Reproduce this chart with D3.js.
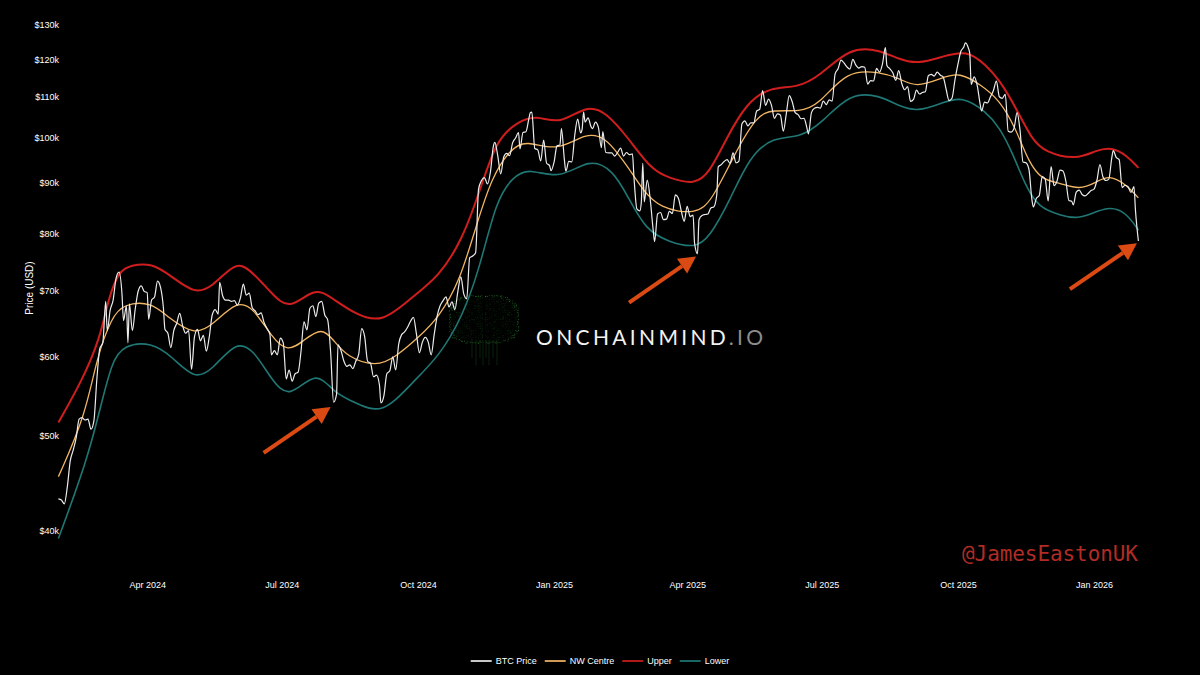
<!DOCTYPE html>
<html><head><meta charset="utf-8">
<script src="https://cdn.jsdelivr.net/npm/d3@7"></script>
<style>html,body{margin:0;background:#000;}svg{display:block}</style>
</head><body><svg id="c" width="1200" height="675"></svg>
<script>
// ---------- DATA (values in $k) ----------
const priceSeries = [
["2024-02-01",43.1],["2024-02-03",43.0],["2024-02-05",42.6],["2024-02-07",44.3],["2024-02-09",47.1],["2024-02-11",48.3],["2024-02-13",49.7],["2024-02-15",51.9],["2024-02-17",52.1],["2024-02-19",51.8],["2024-02-21",51.9],["2024-02-23",50.7],["2024-02-25",51.7],["2024-02-27",57.0],["2024-02-29",61.2],
["2024-03-02",62.0],["2024-03-04",68.3],["2024-03-05",63.8],["2024-03-07",66.9],["2024-03-09",68.5],["2024-03-11",72.1],["2024-03-13",73.1],["2024-03-15",69.4],["2024-03-16",65.3],["2024-03-18",67.6],["2024-03-19",62.0],["2024-03-20",67.9],["2024-03-22",63.8],["2024-03-24",67.2],["2024-03-26",70.0],["2024-03-28",70.8],["2024-03-30",69.9],
["2024-04-01",69.7],["2024-04-02",65.5],["2024-04-04",68.5],["2024-04-06",69.0],["2024-04-08",71.6],["2024-04-10",70.6],["2024-04-12",67.2],["2024-04-13",64.0],["2024-04-15",63.4],["2024-04-17",61.3],["2024-04-19",63.8],["2024-04-21",64.9],["2024-04-23",66.4],["2024-04-25",64.5],["2024-04-27",63.4],["2024-04-29",63.8],
["2024-05-01",58.3],["2024-05-03",62.9],["2024-05-05",64.0],["2024-05-07",62.3],["2024-05-09",63.1],["2024-05-11",60.8],["2024-05-13",62.9],["2024-05-15",66.2],["2024-05-17",67.0],["2024-05-19",66.3],["2024-05-20",71.4],["2024-05-22",69.2],["2024-05-24",68.5],["2024-05-26",68.5],["2024-05-28",68.3],["2024-05-30",68.4],
["2024-06-01",67.7],["2024-06-03",68.8],["2024-06-05",71.1],["2024-06-07",69.3],["2024-06-09",69.6],["2024-06-11",67.3],["2024-06-13",66.8],["2024-06-15",66.2],["2024-06-17",66.5],["2024-06-19",65.0],["2024-06-21",64.1],["2024-06-23",63.2],["2024-06-24",60.3],["2024-06-26",60.9],["2024-06-28",60.3],["2024-06-30",62.7],
["2024-07-02",62.0],["2024-07-04",57.0],["2024-07-06",58.2],["2024-07-08",56.7],["2024-07-10",57.7],["2024-07-12",57.9],["2024-07-14",60.8],["2024-07-16",65.1],["2024-07-18",63.9],["2024-07-20",67.2],["2024-07-22",67.6],["2024-07-24",65.9],["2024-07-26",68.0],["2024-07-28",68.3],["2024-07-30",66.2],
["2024-08-01",65.4],["2024-08-03",60.7],["2024-08-05",54.0],["2024-08-07",55.0],["2024-08-08",61.7],["2024-08-10",60.9],["2024-08-12",59.4],["2024-08-14",58.7],["2024-08-16",58.9],["2024-08-18",58.4],["2024-08-20",59.4],["2024-08-22",60.4],["2024-08-24",64.1],["2024-08-26",62.9],["2024-08-28",59.4],["2024-08-30",59.1],
["2024-09-01",57.3],["2024-09-03",57.5],["2024-09-05",56.2],["2024-09-06",53.9],["2024-09-08",54.8],["2024-09-10",57.7],["2024-09-12",58.1],["2024-09-14",60.0],["2024-09-16",58.2],["2024-09-18",61.8],["2024-09-20",63.2],["2024-09-22",63.6],["2024-09-24",64.3],["2024-09-26",65.2],["2024-09-28",65.8],["2024-09-30",63.3],
["2024-10-02",60.6],["2024-10-04",62.1],["2024-10-06",62.8],["2024-10-08",62.1],["2024-10-10",60.3],["2024-10-12",63.2],["2024-10-14",66.0],["2024-10-16",67.6],["2024-10-18",68.4],["2024-10-20",69.0],["2024-10-22",67.4],["2024-10-24",68.2],["2024-10-26",67.0],["2024-10-28",69.9],["2024-10-30",72.3],
["2024-11-01",69.5],["2024-11-03",68.7],["2024-11-05",75.6],["2024-11-07",75.9],["2024-11-09",76.5],["2024-11-11",88.7],["2024-11-13",90.5],["2024-11-15",91.1],["2024-11-17",89.8],["2024-11-19",92.3],["2024-11-21",98.0],["2024-11-22",98.9],["2024-11-24",95.8],["2024-11-26",91.9],["2024-11-28",95.6],["2024-11-30",96.4],
["2024-12-02",95.9],["2024-12-04",98.8],["2024-12-06",99.9],["2024-12-08",101.2],["2024-12-09",97.4],["2024-12-11",101.2],["2024-12-13",101.4],["2024-12-15",104.5],["2024-12-16",106.0],["2024-12-17",106.1],["2024-12-19",97.5],["2024-12-21",97.2],["2024-12-23",94.7],["2024-12-25",99.4],["2024-12-27",94.2],["2024-12-29",93.7],["2024-12-30",92.6],
["2025-01-01",94.4],["2025-01-03",98.1],["2025-01-05",98.3],["2025-01-06",102.1],["2025-01-08",95.0],["2025-01-09",92.5],["2025-01-11",94.6],["2025-01-13",94.5],["2025-01-15",100.5],["2025-01-17",104.4],["2025-01-19",101.1],["2025-01-20",102.0],["2025-01-21",106.1],["2025-01-22",103.7],["2025-01-24",104.7],["2025-01-26",102.6],["2025-01-27",102.1],["2025-01-29",103.7],["2025-01-31",102.4],
["2025-02-02",97.7],["2025-02-03",101.4],["2025-02-05",96.6],["2025-02-07",96.5],["2025-02-09",96.5],["2025-02-11",95.8],["2025-02-13",96.6],["2025-02-15",97.6],["2025-02-17",95.8],["2025-02-19",96.6],["2025-02-21",96.1],["2025-02-23",96.3],["2025-02-24",91.4],["2025-02-26",84.7],["2025-02-28",84.3],
["2025-03-01",86.0],["2025-03-02",94.2],["2025-03-03",86.1],["2025-03-05",90.6],["2025-03-07",86.7],["2025-03-09",80.7],["2025-03-10",78.5],["2025-03-12",83.7],["2025-03-14",84.0],["2025-03-16",82.6],["2025-03-18",82.7],["2025-03-20",84.2],["2025-03-22",83.8],["2025-03-24",87.5],["2025-03-26",86.9],["2025-03-28",84.3],["2025-03-30",82.3],
["2025-04-01",85.2],["2025-04-03",83.2],["2025-04-05",83.5],["2025-04-06",78.2],["2025-04-08",76.3],["2025-04-09",82.6],["2025-04-11",83.4],["2025-04-13",83.6],["2025-04-15",83.7],["2025-04-17",84.9],["2025-04-19",85.1],["2025-04-21",87.5],["2025-04-22",93.4],["2025-04-24",93.9],["2025-04-26",94.6],["2025-04-28",95.0],["2025-04-30",94.2],
["2025-05-02",96.5],["2025-05-04",94.3],["2025-05-06",94.7],["2025-05-08",103.2],["2025-05-10",104.0],["2025-05-12",102.8],["2025-05-14",103.5],["2025-05-16",103.5],["2025-05-18",106.4],["2025-05-20",106.8],["2025-05-22",111.6],["2025-05-24",107.8],["2025-05-26",109.4],["2025-05-28",107.8],["2025-05-30",104.6],
["2025-06-01",105.7],["2025-06-03",105.4],["2025-06-05",101.5],["2025-06-07",105.7],["2025-06-09",110.3],["2025-06-11",108.7],["2025-06-13",106.0],["2025-06-15",105.5],["2025-06-17",104.5],["2025-06-19",104.6],["2025-06-21",102.2],["2025-06-22",100.9],["2025-06-24",106.0],["2025-06-26",107.1],["2025-06-28",107.3],["2025-06-30",107.1],
["2025-07-02",108.9],["2025-07-04",108.0],["2025-07-06",109.2],["2025-07-08",108.9],["2025-07-10",116.0],["2025-07-12",117.4],["2025-07-14",119.8],["2025-07-16",119.0],["2025-07-18",117.9],["2025-07-20",117.3],["2025-07-22",120.0],["2025-07-24",118.4],["2025-07-26",117.6],["2025-07-28",118.0],["2025-07-30",117.8],
["2025-08-01",113.3],["2025-08-03",114.2],["2025-08-05",114.1],["2025-08-07",117.5],["2025-08-09",116.5],["2025-08-11",118.7],["2025-08-13",123.3],["2025-08-14",118.3],["2025-08-16",117.4],["2025-08-18",116.3],["2025-08-20",114.3],["2025-08-22",116.9],["2025-08-24",113.5],["2025-08-26",111.8],["2025-08-28",112.6],["2025-08-30",108.8],
["2025-09-01",109.3],["2025-09-03",111.7],["2025-09-05",110.7],["2025-09-07",111.1],["2025-09-09",111.3],["2025-09-11",115.5],["2025-09-13",115.9],["2025-09-15",115.4],["2025-09-17",116.5],["2025-09-19",115.7],["2025-09-21",115.2],["2025-09-23",112.0],["2025-09-25",109.0],["2025-09-27",109.6],["2025-09-29",114.4],
["2025-10-01",118.6],["2025-10-03",122.3],["2025-10-05",123.5],["2025-10-06",124.7],["2025-10-08",123.3],["2025-10-09",121.7],["2025-10-10",113.2],["2025-10-12",115.2],["2025-10-14",113.0],["2025-10-16",108.2],["2025-10-17",106.4],["2025-10-19",108.6],["2025-10-21",108.4],["2025-10-23",110.0],["2025-10-25",111.6],["2025-10-27",114.1],["2025-10-29",110.0],["2025-10-31",109.6],
["2025-11-02",110.6],["2025-11-04",101.5],["2025-11-06",101.3],["2025-11-08",102.3],["2025-11-10",106.0],["2025-11-12",101.7],["2025-11-14",94.5],["2025-11-16",94.3],["2025-11-18",92.9],["2025-11-20",86.6],["2025-11-21",85.1],["2025-11-23",86.8],["2025-11-25",87.4],["2025-11-27",91.3],["2025-11-29",90.8],
["2025-12-01",86.3],["2025-12-03",93.5],["2025-12-05",89.4],["2025-12-07",90.4],["2025-12-09",92.7],["2025-12-11",92.5],["2025-12-13",90.3],["2025-12-15",86.4],["2025-12-17",86.2],["2025-12-18",85.5],["2025-12-20",88.1],["2025-12-22",88.5],["2025-12-24",87.6],["2025-12-26",87.3],["2025-12-28",87.8],["2025-12-30",88.4],
["2026-01-01",88.7],["2026-01-03",90.6],["2026-01-05",93.9],["2026-01-07",91.3],["2026-01-09",90.5],["2026-01-11",90.8],["2026-01-13",95.4],["2026-01-14",97.0],["2026-01-16",95.5],["2026-01-18",95.0],["2026-01-20",89.0],["2026-01-22",89.5],["2026-01-24",89.2],["2026-01-26",88.0],["2026-01-28",89.2],["2026-01-29",84.5],["2026-01-31",78.6]
];

const centreSeries = [
["2024-02-01",45.4],["2024-02-19",52.2],["2024-02-27",60.0],["2024-03-08",65.8],["2024-03-16",67.9],["2024-04-04",68.2],["2024-04-15",65.8],["2024-05-03",63.1],["2024-05-15",64.6],["2024-06-01",68.5],["2024-06-12",67.2],["2024-06-24",62.9],["2024-07-05",60.6],["2024-07-16",62.4],["2024-07-28",64.3],["2024-08-05",62.4],["2024-08-14",60.0],["2024-09-03",58.6],["2024-09-16",60.0],["2024-10-02",62.9],["2024-10-15",65.8],["2024-10-29",71.3],["2024-11-10",82.0],["2024-11-20",91.2],["2024-12-02",97.2],["2024-12-13",99.5],["2025-01-03",96.7],["2025-01-23",101.3],["2025-02-05",99.9],["2025-02-14",96.0],["2025-02-20",93.4],["2025-03-02",88.5],["2025-03-13",84.9],["2025-04-07",83.5],["2025-04-18",86.5],["2025-05-02",95.6],["2025-05-18",105.4],["2025-05-29",106.7],["2025-06-16",106.2],["2025-06-29",107.9],["2025-07-18",117.1],["2025-08-09",116.5],["2025-08-22",114.9],["2025-09-03",112.3],["2025-09-20",114.9],["2025-10-02",116.5],["2025-10-17",113.0],["2025-10-29",109.2],["2025-11-09",102.3],["2025-11-18",94.3],["2025-11-27",90.6],["2025-12-09",90.0],["2025-12-22",88.5],["2026-01-03",90.2],["2026-01-11",91.7],["2026-01-23",89.6],["2026-01-31",86.9]
];

const upperSeries = [
["2024-02-01",51.5],["2024-02-17",56.8],["2024-02-29",62.5],["2024-03-06",69.0],["2024-03-13",73.3],["2024-03-21",74.3],["2024-04-04",74.7],["2024-04-18",72.3],["2024-05-03",69.5],["2024-05-15",70.6],["2024-05-30",74.7],["2024-06-08",74.0],["2024-06-24",69.6],["2024-07-06",66.8],["2024-07-23",70.6],["2024-08-03",69.0],["2024-08-20",66.2],["2024-09-07",64.9],["2024-09-27",69.0],["2024-10-15",72.3],["2024-10-31",78.8],["2024-11-12",88.5],["2024-11-23",99.5],["2024-12-07",103.7],["2024-12-20",105.4],["2025-01-05",103.0],["2025-01-23",107.9],["2025-02-05",106.2],["2025-02-20",100.0],["2025-03-08",92.7],["2025-03-20",91.0],["2025-04-06",89.6],["2025-04-16",92.1],["2025-04-27",99.5],["2025-05-11",108.4],["2025-05-27",112.5],["2025-06-14",112.3],["2025-06-29",115.2],["2025-07-20",123.5],["2025-08-09",122.7],["2025-08-22",120.0],["2025-09-04",118.7],["2025-09-20",120.7],["2025-10-07",122.7],["2025-10-20",118.4],["2025-10-29",114.4],["2025-11-09",107.4],["2025-11-20",99.5],["2025-11-29",96.7],["2025-12-20",94.9],["2026-01-03",97.2],["2026-01-13",97.8],["2026-01-23",96.0],["2026-01-31",93.2]
];

const lowerSeries = [
["2024-02-01",39.3],["2024-02-20",47.0],["2024-02-29",53.0],["2024-03-08",59.3],["2024-03-16",61.7],["2024-04-04",62.1],["2024-04-18",60.0],["2024-05-03",56.9],["2024-05-15",58.2],["2024-05-31",62.3],["2024-06-12",61.0],["2024-06-24",56.9],["2024-07-06",54.3],["2024-07-24",58.3],["2024-08-05",55.2],["2024-08-20",53.9],["2024-09-07",52.4],["2024-09-27",56.5],["2024-10-15",60.0],["2024-10-31",65.8],["2024-11-12",74.0],["2024-11-23",86.5],["2024-12-04",91.2],["2024-12-15",93.2],["2025-01-05",90.6],["2025-01-25",95.4],["2025-02-10",92.7],["2025-02-20",87.1],["2025-03-04",80.6],["2025-03-20",78.4],["2025-04-06",77.3],["2025-04-16",79.2],["2025-04-30",86.5],["2025-05-13",95.6],["2025-05-29",100.2],["2025-06-16",99.9],["2025-07-01",103.5],["2025-07-20",111.0],["2025-08-09",110.4],["2025-08-22",107.6],["2025-09-04",106.2],["2025-09-20",108.4],["2025-10-04",110.2],["2025-10-20",106.2],["2025-10-29",102.5],["2025-11-07",96.5],["2025-11-16",89.1],["2025-11-25",84.9],["2025-12-09",83.5],["2025-12-22",82.5],["2026-01-11",85.5],["2026-01-23",83.9],["2026-01-31",80.6]
];

const yTickValues = [40,50,60,70,80,90,100,110,120,130];
const xTickDates = ["2024-04-01","2024-07-01","2024-10-01","2025-01-01","2025-04-01","2025-07-01","2025-10-01","2026-01-01"];
const legendLabels = ["BTC Price","NW Centre","Upper","Lower"];
const arrowTargets = [["2024-08-03",53.4],["2025-04-07",75.8],["2026-01-30",78.2]];

// ---------- STYLE ----------
const colors = {"BTC Price":"#ececec","NW Centre":"#f2b563","Upper":"#d01e1e","Lower":"#1f7875"};
const widths = {"BTC Price":1.2,"NW Centre":1.3,"Upper":2,"Lower":1.6};
const font = "'Liberation Sans', Arial, Helvetica, sans-serif";

const parse = d3.utcParse("%Y-%m-%d");
const svg = d3.select("#c");
svg.append("rect").attr("width",1200).attr("height",675).attr("fill","#000");

const x = d3.scaleUtc().domain([parse("2024-02-01"), parse("2026-01-31")]).range([58.4, 1138.4]);
const y = d3.scaleLog().domain([40,130]).range([531,25]);

// ---------- watermark (brain + text) ----------
const wm = svg.append("g");
const hash = (a,b) => Math.abs(Math.sin(a*12.9898 + b*78.233) * 43758.5453) % 1;
const bcx = 484, bcy = 319, brx = 36, bry = 25, pw = 2.6;
const dots = [];
for (let i = -brx; i <= brx; i += 1.8) {
  for (let j = -bry; j <= bry; j += 1.8) {
    const r = Math.pow(Math.abs(i)/brx, pw) + Math.pow(Math.abs(j)/bry, pw*(j>0?1.3:1));
    if (r > 1 || Math.abs(i) < 1.0) continue;
    const h = hash(i, j), h2 = hash(j+3, i+1);
    const band = 0.5 + 0.5*Math.sin(i*0.5 + Math.sin(j*0.35)*3 + j*0.3);
    let op = 0.05 + 0.25*h*band;
    if (r > 0.8) op = 0.3 + 0.4*h;
    if (Math.abs(i) < 3) op = Math.max(op, 0.3*h);
    dots.push([bcx+i+(h2-0.5)*1.2, bcy+j+(h-0.5)*1.2, op]);
  }
}
wm.selectAll("circle.bd").data(dots).join("circle")
  .attr("cx",d=>d[0]).attr("cy",d=>d[1]).attr("r",0.6)
  .attr("fill","#34a03b").attr("opacity",d=>d[2]);
const stemX = [472,476,480,483,486,489,493,497];
wm.selectAll("line.st").data(stemX).join("line")
  .attr("x1",d=>d).attr("x2",d=>d).attr("y1",340).attr("y2",(d,i)=>358 + (i*7)%14)
  .attr("stroke","#1f6424").attr("stroke-width",0.7).attr("opacity",0.5);

const wt = wm.append("text").attr("x",536).attr("y",345)
  .attr("font-family","Lato, 'Open Sans', sans-serif").attr("font-size",21)
  .attr("textLength",227).attr("lengthAdjust","spacing");
wt.append("tspan").attr("fill","#f2f2f2").text("ONCHAINMIND");
wt.append("tspan").attr("fill","#8c8c8c").text(".IO");

// ---------- lines ----------
const lineGen = d3.line().x(d=>x(parse(d[0]))).y(d=>y(d[1]));
const series = [["Lower",lowerSeries,d3.curveBasis],["Upper",upperSeries,d3.curveBasis],["NW Centre",centreSeries,d3.curveBasis],["BTC Price",priceSeries,d3.curveMonotoneX]];
svg.append("g").selectAll("path").data(series).join("path")
  .attr("fill","none")
  .attr("stroke",d=>colors[d[0]])
  .attr("stroke-width",d=>widths[d[0]])
  .attr("stroke-linejoin","round")
  .attr("d",d=>lineGen.curve(d[2])(d[1]));

// ---------- axes ----------
const yAxis = d3.axisLeft(y).tickValues(yTickValues).tickSize(0).tickPadding(4)
  .tickFormat(v => "$" + v + "k");
const gy = svg.append("g").attr("transform","translate(63,0)").call(yAxis);
gy.select(".domain").remove();
gy.selectAll("text").attr("fill","#fff").attr("font-family",font).attr("font-size",9);

const xAxis = d3.axisBottom(x).tickValues(xTickDates.map(parse)).tickSize(0).tickPadding(7)
  .tickFormat(d3.utcFormat("%b %Y"));
const gx = svg.append("g").attr("transform","translate(0,575)").call(xAxis);
gx.select(".domain").remove();
gx.selectAll("text").attr("fill","#fff").attr("font-family",font).attr("font-size",9);

svg.append("text").attr("transform","translate(33,288) rotate(-90)")
  .attr("text-anchor","middle").attr("fill","#fff").attr("font-family",font).attr("font-size",10)
  .text("Price (USD)");

// ---------- arrows ----------
const arrowColor = "#dc4a14";
const ag = svg.append("g");
arrowTargets.forEach(([d,v]) => {
  const tx = x(parse(d)), ty = y(v);
  const sx = tx - 67, sy = ty + 46;
  const ang = Math.atan2(ty - sy, tx - sx);
  const hl = 17, hw = 9;
  const bx = tx - hl*Math.cos(ang), by = ty - hl*Math.sin(ang);
  ag.append("line").attr("x1",sx).attr("y1",sy).attr("x2",bx).attr("y2",by)
    .attr("stroke",arrowColor).attr("stroke-width",4).attr("stroke-linecap","butt");
  const px = -Math.sin(ang), py = Math.cos(ang);
  ag.append("path").attr("fill",arrowColor)
    .attr("d",`M${tx},${ty}L${bx+px*hw},${by+py*hw}L${bx-px*hw},${by-py*hw}Z`);
});

// ---------- handle ----------
svg.append("text").attr("x",962).attr("y",561)
  .attr("font-family","'DejaVu Sans Mono', 'Liberation Mono', monospace").attr("font-size",21)
  .attr("font-weight",300)
  .attr("textLength",176).attr("lengthAdjust","spacing")
  .attr("fill","#b02c25").text("@JamesEastonUK");

// ---------- legend ----------
const lg = svg.append("g");
const tmp = lg.append("text").attr("font-family",font).attr("font-size",9);
const wds = legendLabels.map(l => { tmp.text(l); return tmp.node().getComputedTextLength(); });
tmp.remove();
const lineLen = 21, gap1 = 4, gap2 = 8;
const total = d3.sum(wds) + legendLabels.length*(lineLen+gap1) + (legendLabels.length-1)*gap2;
let cx = 600 - total/2;
legendLabels.forEach((l,i) => {
  lg.append("line").attr("x1",cx).attr("x2",cx+lineLen).attr("y1",661).attr("y2",661)
    .attr("stroke",colors[l]).attr("stroke-width",2).attr("opacity",0.85);
  lg.append("text").attr("x",cx+lineLen+gap1).attr("y",664.2).attr("fill","#fff")
    .attr("font-family",font).attr("font-size",9).text(l);
  cx += lineLen + gap1 + wds[i] + gap2;
});
</script></body></html>
